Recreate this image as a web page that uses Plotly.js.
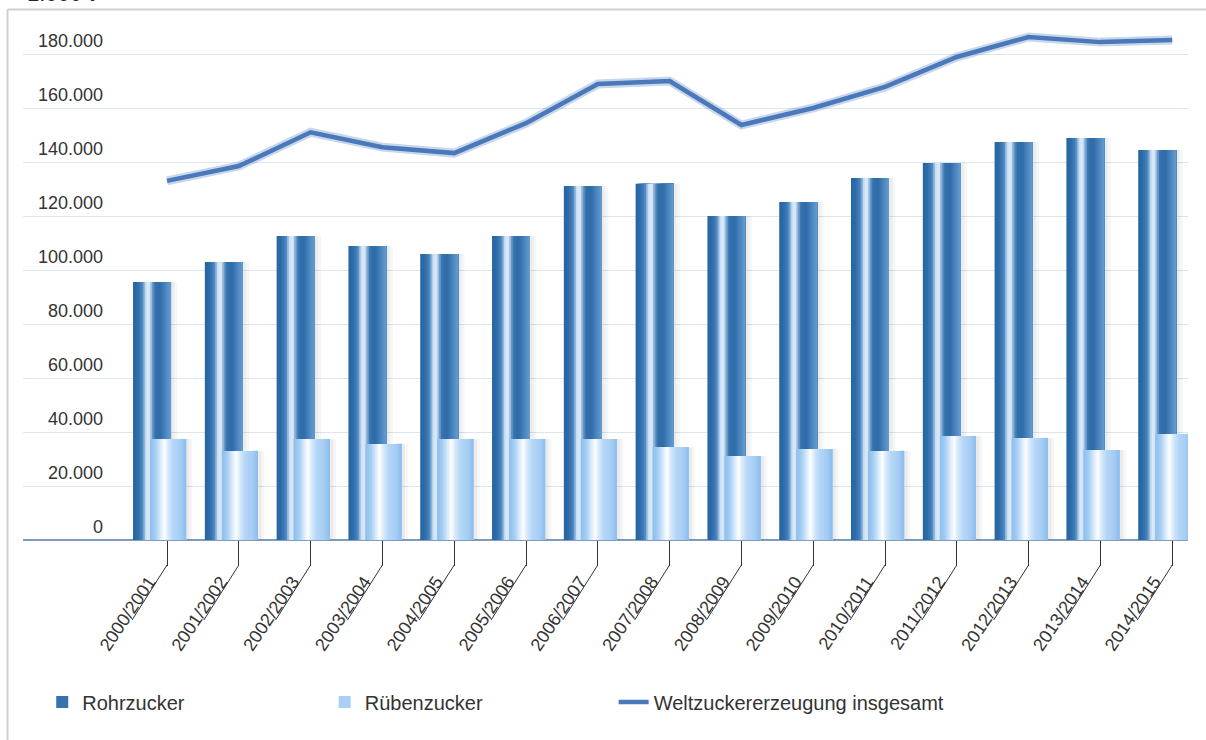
<!DOCTYPE html>
<html>
<head>
<meta charset="utf-8">
<script src="https://cdn.plot.ly/plotly-3.0.1.min.js"></script>
<style>
  html, body { margin: 0; padding: 0; background: #ffffff; }
  #chart { width: 1206px; height: 740px; }
</style>
</head>
<body>
<div id="chart"></div>
<script>
// ---- data (values in 1.000 t) ----
const categories = ['2000/2001','2001/2002','2002/2003','2003/2004','2004/2005','2005/2006','2006/2007','2007/2008','2008/2009','2009/2010','2010/2011','2011/2012','2012/2013','2013/2014','2014/2015'];
const rohrzucker = [95600,103000,112600,108900,105900,112600,131100,131900,120000,125200,134100,139600,147400,148900,144400];
const ruebenzucker = [37400,33000,37400,35600,37400,37400,37400,34400,31100,33700,33000,38500,37800,33300,39300];
const gesamt = [133000,138500,151000,145500,143300,154400,168900,170000,153700,160000,167800,178900,186300,184400,185200];
const yTicks = [0,20000,40000,60000,80000,100000,120000,140000,160000,180000];
const seriesNames = ['Rohrzucker','Rübenzucker','Weltzuckererzeugung insgesamt'];
const titleText = '1.000 t';

// ---- styles ----
const FONT = 'Liberation Sans, Arial, sans-serif';
// gradient stops [position, [r,g,b]] (cylinder shading)
const rohrStops = [[0,[40,100,160]],[0.12,[46,108,170]],[0.24,[70,130,190]],[0.34,[200,222,242]],[0.42,[230,240,250]],[0.5,[120,165,210]],[0.58,[50,112,172]],[0.72,[48,108,168]],[0.88,[78,138,196]],[1,[105,157,206]]];
const ruebenStops = [[0,[140,190,236]],[0.15,[165,206,243]],[0.3,[220,236,252]],[0.4,[255,255,255]],[0.5,[215,233,251]],[0.65,[180,214,247]],[0.85,[165,205,244]],[1,[140,188,236]]];
const NSTRIPES = 22;

function colorAt(stops, t) {
  for (let i = 1; i < stops.length; i++) {
    if (t <= stops[i][0]) {
      const a = stops[i-1], b = stops[i];
      const f = (t - a[0]) / (b[0] - a[0]);
      const c = a[1].map((v, j) => Math.round(v + (b[1][j] - v) * f));
      return 'rgb(' + c.join(',') + ')';
    }
  }
  const l = stops[stops.length-1][1];
  return 'rgb(' + l.join(',') + ')';
}

function stripes(vals, off, w, stops) {
  const out = [];
  for (let k = 0; k < NSTRIPES; k++) {
    const start = off + k * w / NSTRIPES;
    out.push({
      type: 'bar', x: categories, y: vals,
      width: off + w - start, offset: start,
      marker: { color: colorAt(stops, (k + 0.5) / NSTRIPES), line: { width: 0 } },
      showlegend: false, hoverinfo: 'skip'
    });
  }
  return out;
}
function shadow(vals, off, w, alpha) {
  return { type: 'bar', x: categories, y: vals, width: w, offset: off,
    marker: { color: 'rgba(0,0,0,' + alpha + ')', line: { width: 0 } },
    showlegend: false, hoverinfo: 'skip' };
}
function legendEntry(name, color, legendId) {
  return { type: 'bar', x: [null], y: [null], name: name, legend: legendId,
    marker: { color: color, line: { width: 0 } }, hoverinfo: 'skip' };
}

const traces = [].concat(
  [shadow(rohrzucker, 0.055, 0.05, 0.07), shadow(rohrzucker, 0.105, 0.04, 0.035)],
  stripes(rohrzucker, -0.4735, 0.529, rohrStops),
  [shadow(ruebenzucker, 0.265, 0.05, 0.08), shadow(ruebenzucker, 0.315, 0.04, 0.035)],
  stripes(ruebenzucker, -0.237, 0.502, ruebenStops),
  [legendEntry(seriesNames[0], '#3572b0', 'legend'),
   legendEntry(seriesNames[1], '#a9d0f4', 'legend2'),
   { type: 'scatter', mode: 'lines', x: categories, y: gesamt,
     line: { color: 'rgba(77,123,189,0.30)', width: 9 }, showlegend: false, hoverinfo: 'skip' },
   { type: 'scatter', mode: 'lines', x: categories, y: gesamt, name: seriesNames[2], legend: 'legend3',
     line: { color: '#4a78ba', width: 4.5 } }]
);

// decorative leader lines under rotated tick labels
const shapes = categories.map((c, i) => ({
  type: 'line', xref: 'x', yref: 'paper',
  x0: i, y0: -0.0487, x1: i - 0.487, y1: -0.156,
  line: { color: '#333333', width: 1 }
}));
// frame
shapes.push({ type: 'line', xref: 'paper', yref: 'paper', x0: -0.0133, x1: 1.02, y0: 1.034, y1: 1.034, line: { color: '#cfcfcf', width: 2 } });
shapes.push({ type: 'line', xref: 'paper', yref: 'paper', x0: -0.0133, x1: -0.0133, y0: 1.034, y1: -0.40, line: { color: '#cfcfcf', width: 2 } });

const legendBase = {
  orientation: 'h', xanchor: 'left', y: -0.316, yanchor: 'middle',
  font: { family: FONT, size: 20, color: '#333333' }, bgcolor: 'rgba(0,0,0,0)'
};

const layout = {
  width: 1206, height: 740,
  margin: { l: 23, r: 18, t: 27, b: 200 },
  paper_bgcolor: '#ffffff', plot_bgcolor: '#ffffff',
  separators: ',.',
  barmode: 'overlay',
  font: { family: FONT, size: 18, color: '#333333' },
  xaxis: {
    type: 'category', range: [-2.006, 14.22],
    showgrid: false, zeroline: false, showline: false,
    ticks: 'outside', ticklen: 25, tickwidth: 1, tickcolor: '#333333',
    tickangle: -56, ticklabelshift: -18, ticklabelstandoff: -2,
    tickfont: { family: FONT, size: 18, color: '#333333' },
    fixedrange: true
  },
  yaxis: {
    range: [0, 190000], anchor: 'free', position: 0.0687,
    tickvals: yTicks, tickformat: ',d',
    showgrid: true, gridcolor: '#dde5ee', gridwidth: 1,
    zeroline: true, zerolinecolor: '#7f9bc0', zerolinewidth: 1.5,
    showline: false, ticks: '',
    ticklabelshift: -13, ticklabelstandoff: 0,
    tickfont: { family: FONT, size: 18, color: '#333333' },
    fixedrange: true
  },
  legend: Object.assign({}, legendBase, { x: 0.0165 }),
  legend2: Object.assign({}, legendBase, { x: 0.259 }),
  legend3: Object.assign({}, legendBase, { x: 0.507 }),
  shapes: shapes,
  annotations: [{
    text: titleText, xref: 'paper', yref: 'paper', x: 0.0017, y: 1.037,
    xanchor: 'left', yanchor: 'bottom', showarrow: false,
    font: { family: FONT, size: 22, color: '#222222' }
  }],
  hovermode: false
};

Plotly.newPlot('chart', traces, layout, { displayModeBar: false, staticPlot: true });
</script>
</body>
</html>
